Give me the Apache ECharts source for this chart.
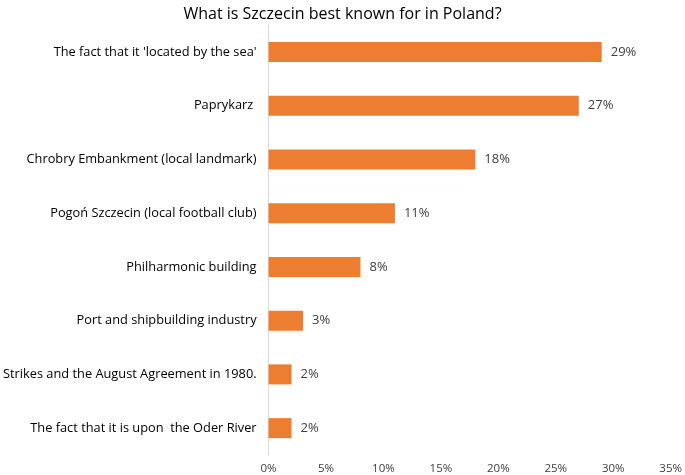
<!DOCTYPE html>
<html>
<head>
<meta charset="utf-8">
<script src="https://cdn.jsdelivr.net/npm/echarts@6/dist/echarts.min.js"></script>
<style>
  html, body { margin: 0; padding: 0; background: #fff; }
  #main { width: 685px; height: 475px; }
</style>
</head>
<body>
<div id="main"></div>
<script>
// answers, top to bottom as in the chart
const categories = [
  "The fact that it 'located by the sea'",
  'Paprykarz ',
  'Chrobry Embankment (local landmark)',
  'Pogoń Szczecin (local football club)',
  'Philharmonic building',
  'Port and shipbuilding industry',
  'Strikes and the August Agreement in 1980.',
  'The fact that it is upon  the Oder River'
]
const shares = [29, 27, 18, 11, 8, 3, 2, 2]
const xTicks = [0, 5, 10, 15, 20, 25, 30, 35]

const font = 'Open Sans, Liberation Sans, sans-serif'

const option = {
  animation: false,
  title: {
    text: 'What is Szczecin best known for in Poland?',
    left: 'center',
    top: 1,
    textStyle: { fontFamily: font, fontSize: 16, fontWeight: 'normal', color: '#000' }
  },
  grid: { left: 267, right: 10, top: 25, bottom: 20 },
  xAxis: {
    type: 'value',
    min: xTicks[0],
    max: xTicks[xTicks.length - 1],
    interval: 5,
    splitLine: { show: false },
    axisLine: { show: false },
    axisTick: { show: false },
    axisLabel: {
      formatter: '{value}%',
      margin: 8,
      fontFamily: font,
      fontSize: 11.5,
      color: '#404040'
    }
  },
  yAxis: {
    type: 'category',
    inverse: true,
    data: categories,
    axisLine: { show: true, lineStyle: { color: '#d9d9d9' } },
    axisTick: { show: false },
    axisLabel: {
      margin: 12,
      fontFamily: font,
      fontSize: 12.8,
      color: '#000'
    }
  },
  series: [
    {
      type: 'bar',
      data: shares,
      barWidth: 20,
      itemStyle: { color: '#ED7D31' },
      label: {
        show: true,
        position: 'right',
        distance: 9,
        formatter: '{c}%',
        fontFamily: font,
        fontSize: 13,
        color: '#404040'
      }
    }
  ]
}

const chart = echarts.init(document.getElementById('main'), null, { renderer: 'canvas' })
chart.setOption(option)
</script>
</body>
</html>
